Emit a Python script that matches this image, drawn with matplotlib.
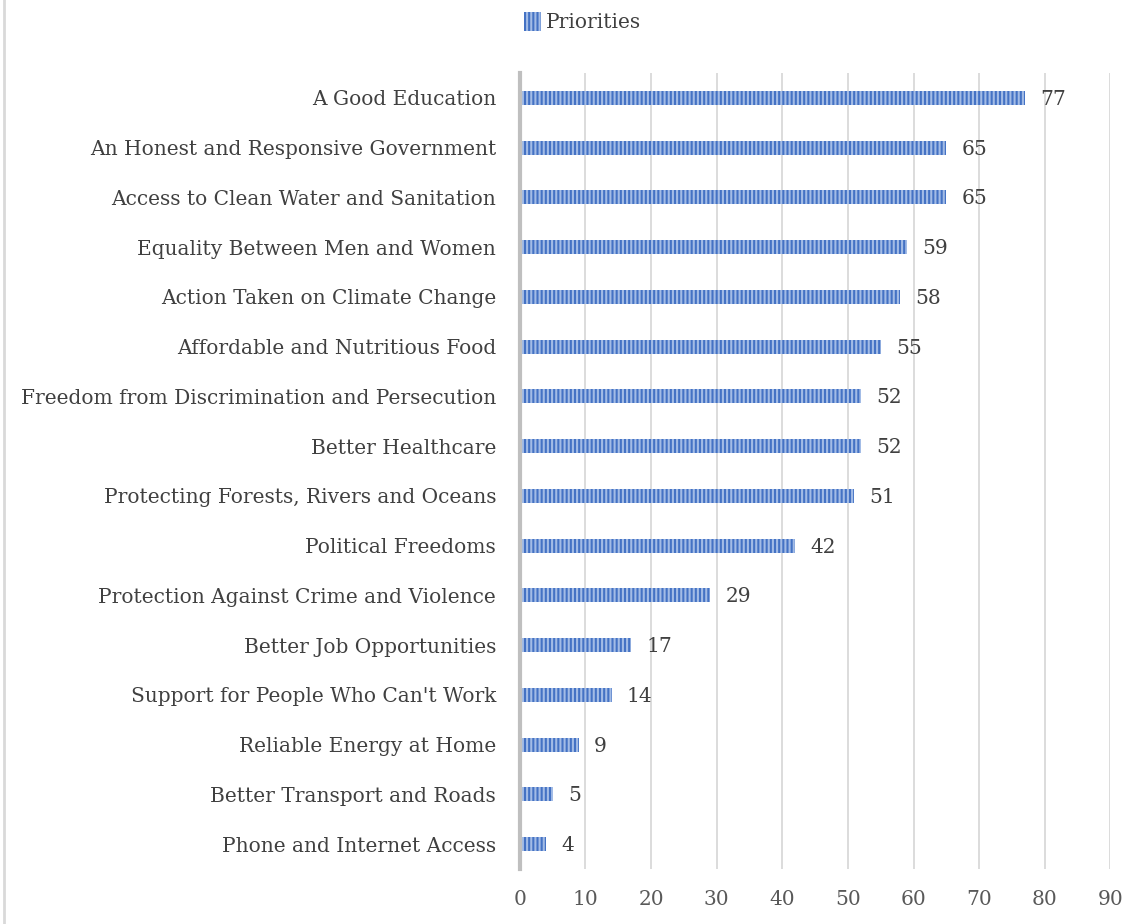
import matplotlib.pyplot as plt
from matplotlib.lines import Line2D

# priority topics, listed bottom to top
topics = [
    "Phone and Internet Access",
    "Better Transport and Roads",
    "Reliable Energy at Home",
    "Support for People Who Can't Work",
    "Better Job Opportunities",
    "Protection Against Crime and Violence",
    "Political Freedoms",
    "Protecting Forests, Rivers and Oceans",
    "Better Healthcare",
    "Freedom from Discrimination and Persecution",
    "Affordable and Nutritious Food",
    "Action Taken on Climate Change",
    "Equality Between Men and Women",
    "Access to Clean Water and Sanitation",
    "An Honest and Responsive Government",
    "A Good Education",
]
scores = [4, 5, 9, 14, 17, 29, 42, 51, 52, 52, 55, 58, 59, 65, 65, 77]
xticks = [0, 10, 20, 30, 40, 50, 60, 70, 80, 90]

plt.rcParams['font.family'] = ['DejaVu Serif']
plt.rcParams['hatch.color'] = '#A3BCE6'
plt.rcParams['hatch.linewidth'] = 1.5

fig = plt.figure(figsize=(11.4, 9.24), dpi=100)
ax = fig.add_axes([0.456, 0.0595, 0.518, 0.8615])

ypos = list(range(len(topics)))
bars = ax.barh(ypos, scores, height=0.28, color='#4472C4',
               hatch='||||', linewidth=0, label='Priorities', zorder=3)

for y, v in zip(ypos, scores):
    ax.annotate(str(v), (v, y), xytext=(11, -1), textcoords='offset points',
                va='center', ha='left', fontsize=14.5, color='#404040')

ax.set_xlim(0, 90)
ax.set_ylim(-0.5, len(topics) - 0.5)
ax.set_xticks(xticks)
ax.set_yticks(ypos)
ax.set_yticklabels(topics)
ax.tick_params(axis='y', length=0, pad=17, labelsize=14.5, labelcolor='#404040')
ax.tick_params(axis='x', length=0, pad=15, labelsize=14.5, labelcolor='#595959')
ax.xaxis.grid(True, color='#D9D9D9', linewidth=1.3, zorder=0)
for s in ['top', 'right', 'bottom']:
    ax.spines[s].set_visible(False)
ax.spines['left'].set_color('#BFBFBF')
ax.spines['left'].set_linewidth(3)
ax.spines['left'].set_zorder(4)

fig.legend(handles=[bars], loc='center', bbox_to_anchor=(0.511, 0.976),
           frameon=False, fontsize=14.5, handlelength=0.8, handleheight=1.1,
           handletextpad=0.25, labelcolor='#404040')

# thin frame line on the left edge
fig.add_artist(Line2D([0.0035, 0.0035], [0, 1], color='#D9D9D9',
                      linewidth=2, transform=fig.transFigure))

fig.savefig('out.png', dpi=100)
